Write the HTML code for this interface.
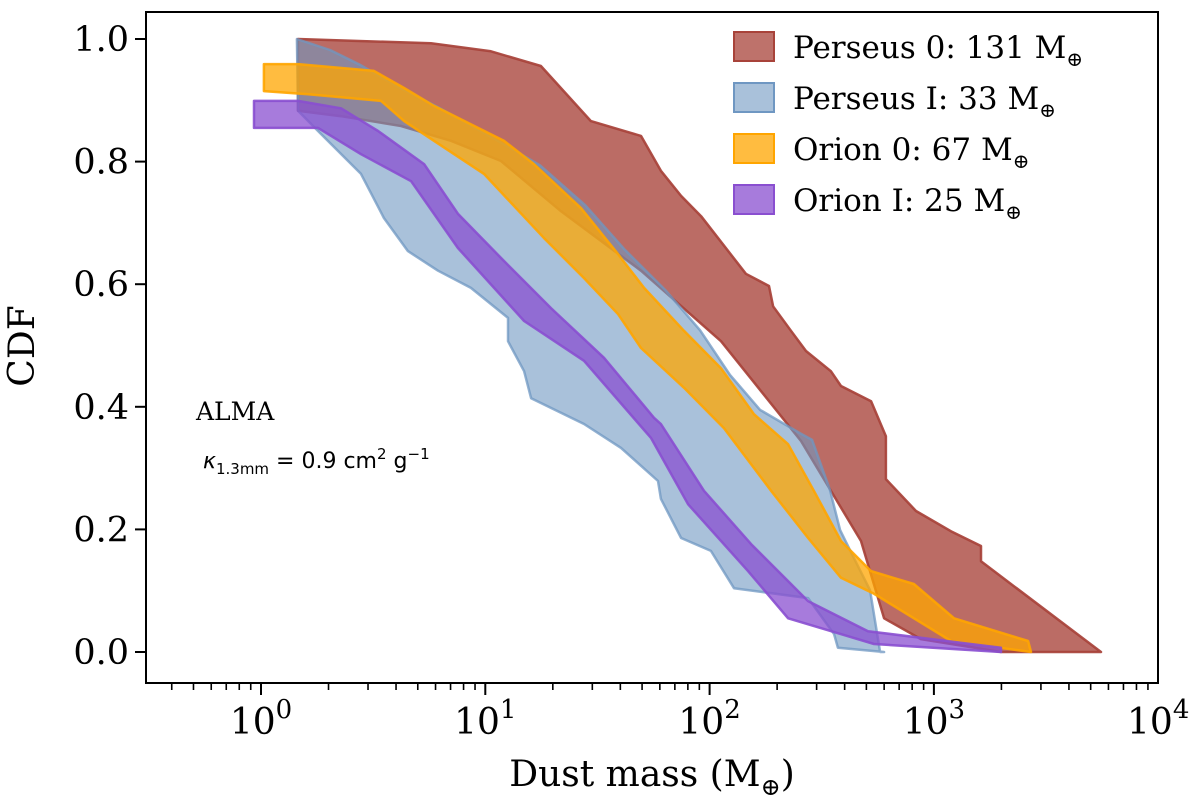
<!DOCTYPE html>
<html><head><meta charset="utf-8"><style>
body{margin:0;background:#fff;}
svg{display:block;font-family:"DejaVu Serif","Liberation Serif",serif;}
</style></head><body>
<svg id="chart" width="1200" height="811" viewBox="0 0 1200 811">
<g id="bands"></g>
<g id="axes"></g>
<g font-size="31">
  <rect x="734" y="32" width="40" height="29" fill="#a8433a" fill-opacity="0.75" stroke="#a8433a" stroke-width="2"/>
  <text x="793" y="58">Perseus 0: 131 M<tspan font-size="20" dy="8">⊕</tspan></text>
  <rect x="734" y="83" width="40" height="29" fill="#6f97c2" fill-opacity="0.6" stroke="#6f97c2" stroke-width="2"/>
  <text x="793" y="109">Perseus I: 33 M<tspan font-size="20" dy="8">⊕</tspan></text>
  <rect x="734" y="134" width="40" height="29" fill="#ffa500" fill-opacity="0.75" stroke="#ffa500" stroke-width="2"/>
  <text x="793" y="160">Orion 0: 67 M<tspan font-size="20" dy="8">⊕</tspan></text>
  <rect x="734" y="185" width="40" height="29" fill="#8a4fd0" fill-opacity="0.75" stroke="#8a4fd0" stroke-width="2"/>
  <text x="793" y="211">Orion I: 25 M<tspan font-size="20" dy="8">⊕</tspan></text>
</g>
<text x="196" y="420" font-size="25">ALMA</text>
<text x="203" y="468" font-size="22" font-family="DejaVu Sans, Liberation Sans, sans-serif"><tspan font-style="italic">κ</tspan><tspan font-size="15" dy="6">1.3mm</tspan><tspan dy="-6"> = 0.9 cm</tspan><tspan font-size="15" dy="-9">2</tspan><tspan dy="9"> g</tspan><tspan font-size="15" dy="-9">−1</tspan></text>
<text x="652" y="786" font-size="36" text-anchor="middle">Dust mass (M<tspan font-size="24" dy="9">⊕</tspan><tspan dy="-9">)</tspan></text>
<text transform="translate(34,346) rotate(-90)" font-size="36" text-anchor="middle">CDF</text>
</svg>
<script>
// Data: log10(dust mass) and CDF values for upper/lower boundaries
const p0UpLg = [0.165,0.758,1.025,1.248,1.471,1.694,1.783,1.873,1.962,2.162,2.265,2.283,2.363,2.430,2.541,2.586,2.720,2.786,2.786,2.920,3.076,3.210,3.210,3.745];
const p0UpCdf = [1.0,0.993,0.980,0.956,0.866,0.842,0.785,0.744,0.711,0.617,0.597,0.564,0.524,0.491,0.458,0.434,0.409,0.352,0.282,0.230,0.197,0.173,0.148,0.0];
const p0LoLg = [0.165,0.357,0.624,0.847,1.070,1.338,1.694,2.051,2.408,2.675,2.778,2.942,3.299,3.745];
const p0LoCdf = [0.883,0.874,0.858,0.834,0.801,0.719,0.622,0.507,0.344,0.181,0.055,0.021,0.0,0.0];

const p1UpLg = [0.160,0.308,0.441,0.620,0.798,1.066,1.244,1.445,1.623,1.801,1.957,2.091,2.225,2.403,2.457,2.537,2.582,2.648,2.715,2.760];
const p1UpCdf = [1.0,0.982,0.958,0.920,0.887,0.832,0.794,0.729,0.656,0.591,0.525,0.452,0.395,0.357,0.346,0.264,0.199,0.150,0.101,0.0];
const p1LoLg = [0.165,0.254,0.446,0.548,0.655,0.789,0.936,1.101,1.101,1.173,1.204,1.440,1.605,1.770,1.783,1.873,2.006,2.109,2.439,2.555,2.572,2.778];
const p1LoCdf = [0.883,0.850,0.780,0.708,0.654,0.622,0.594,0.545,0.507,0.458,0.414,0.372,0.333,0.279,0.250,0.186,0.165,0.104,0.088,0.029,0.007,0.0];

const o0UpLg = [0.013,0.165,0.504,0.638,0.771,1.083,1.217,1.427,1.592,1.708,1.886,2.051,2.198,2.350,2.465,2.586,2.720,2.911,3.090,3.420,3.433];
const o0UpCdf = [0.959,0.959,0.948,0.920,0.891,0.834,0.796,0.724,0.649,0.594,0.524,0.463,0.388,0.339,0.263,0.181,0.132,0.111,0.055,0.018,0.0];
const o0LoLg = [0.013,0.210,0.535,0.638,0.994,1.262,1.440,1.592,1.694,1.886,2.064,2.274,2.439,2.586,2.733,2.911,3.076,3.433];
const o0LoCdf = [0.915,0.910,0.899,0.866,0.780,0.675,0.610,0.551,0.496,0.431,0.365,0.263,0.186,0.121,0.095,0.055,0.018,0.0];

const o1UpLg = [-0.031,0.165,0.357,0.522,0.727,0.878,1.083,1.293,1.529,1.752,1.783,1.975,2.185,2.439,2.706,3.299,3.299];
const o1UpCdf = [0.899,0.899,0.887,0.850,0.796,0.715,0.638,0.561,0.480,0.382,0.372,0.263,0.176,0.083,0.034,0.007,0.0];
const o1LoLg = [-0.031,0.254,0.446,0.669,0.878,1.173,1.440,1.739,1.904,2.171,2.350,2.733,3.299];
const o1LoCdf = [0.855,0.855,0.812,0.768,0.659,0.540,0.475,0.349,0.241,0.132,0.055,0.013,0.0];

const xTickExps = [0,1,2,3,4];
const yTicks = [0.0,0.2,0.4,0.6,0.8,1.0];
const yTickLabels = ["0.0","0.2","0.4","0.6","0.8","1.0"];

const NS = "http://www.w3.org/2000/svg";
const X0 = 261, DEC = 224.3, Y0 = 652, YS = 613;
const L = 146, R = 1158, T = 12, B = 683;
function xs(lg){ return X0 + lg*DEC; }
function ys(c){ return Y0 - c*YS; }

const bands = document.getElementById('bands');
function band(upLg, upC, loLg, loC, color, op, name){
  const pts = [];
  for(let i=0;i<upLg.length;i++) pts.push(xs(upLg[i]).toFixed(1)+','+ys(upC[i]).toFixed(1));
  for(let i=loLg.length-1;i>=0;i--) pts.push(xs(loLg[i]).toFixed(1)+','+ys(loC[i]).toFixed(1));
  const p = document.createElementNS(NS,'polygon');
  p.setAttribute('points', pts.join(' '));
  p.setAttribute('fill', color);
  p.setAttribute('fill-opacity', op);
  p.setAttribute('stroke', color);
  p.setAttribute('stroke-opacity', Math.min(1, op+0.15));
  p.setAttribute('stroke-width', '2.5');
  p.setAttribute('stroke-linejoin', 'round');
  
  
  bands.appendChild(p);
}
band(p0UpLg,p0UpCdf,p0LoLg,p0LoCdf,'#a8433a',0.78,'band-perseus-0');
band(p1UpLg,p1UpCdf,p1LoLg,p1LoCdf,'#6f97c2',0.6,'band-perseus-i');
band(o0UpLg,o0UpCdf,o0LoLg,o0LoCdf,'#ffa500',0.75,'band-orion-0');
band(o1UpLg,o1UpCdf,o1LoLg,o1LoCdf,'#8a4fd0',0.75,'band-orion-i');

const axes = document.getElementById('axes');
function line(x1,y1,x2,y2,w,name){
  const l = document.createElementNS(NS,'line');
  l.setAttribute('x1',x1); l.setAttribute('y1',y1); l.setAttribute('x2',x2); l.setAttribute('y2',y2);
  l.setAttribute('stroke','#000'); l.setAttribute('stroke-width',w);
  
  
  axes.appendChild(l);
}
function txt(x,y,s,anchor,size,name){
  const t = document.createElementNS(NS,'text');
  t.setAttribute('x',x); t.setAttribute('y',y); t.setAttribute('text-anchor',anchor);
  t.setAttribute('font-size',size);
  t.textContent = s;
  
  
  axes.appendChild(t);
  return t;
}
const fr = document.createElementNS(NS,'rect');
fr.setAttribute('x',L); fr.setAttribute('y',T); fr.setAttribute('width',R-L); fr.setAttribute('height',B-T);
fr.setAttribute('fill','none'); fr.setAttribute('stroke','#000'); fr.setAttribute('stroke-width','2');


axes.appendChild(fr);

yTicks.forEach((v,i)=>{
  line(L-11, ys(v), L, ys(v), 2, 'y-tick');
  txt(L-17, ys(v)+12, yTickLabels[i], 'end', 35, 'y-tick-label');
});
for(let e=-1;e<4;e++){
  for(let m=1;m<10;m++){
    const lg = e+Math.log10(m);
    const x = xs(lg);
    if(x < L-0.5 || x > R+0.5) continue;
    if(m===1) line(x,B,x,B+12,2,'x-major-tick');
    else line(x,B,x,B+7,1.6,'x-minor-tick');
  }
}
xTickExps.forEach(e=>{
  const t = txt(xs(e), 734, '', 'middle', 36, 'x-tick-label');
  const a = document.createElementNS(NS,'tspan'); a.textContent='10';
  const b = document.createElementNS(NS,'tspan'); b.textContent=String(e);
  b.setAttribute('font-size','26'); b.setAttribute('dy','-16');
  t.appendChild(a); t.appendChild(b);
});
</script>
</body></html>
